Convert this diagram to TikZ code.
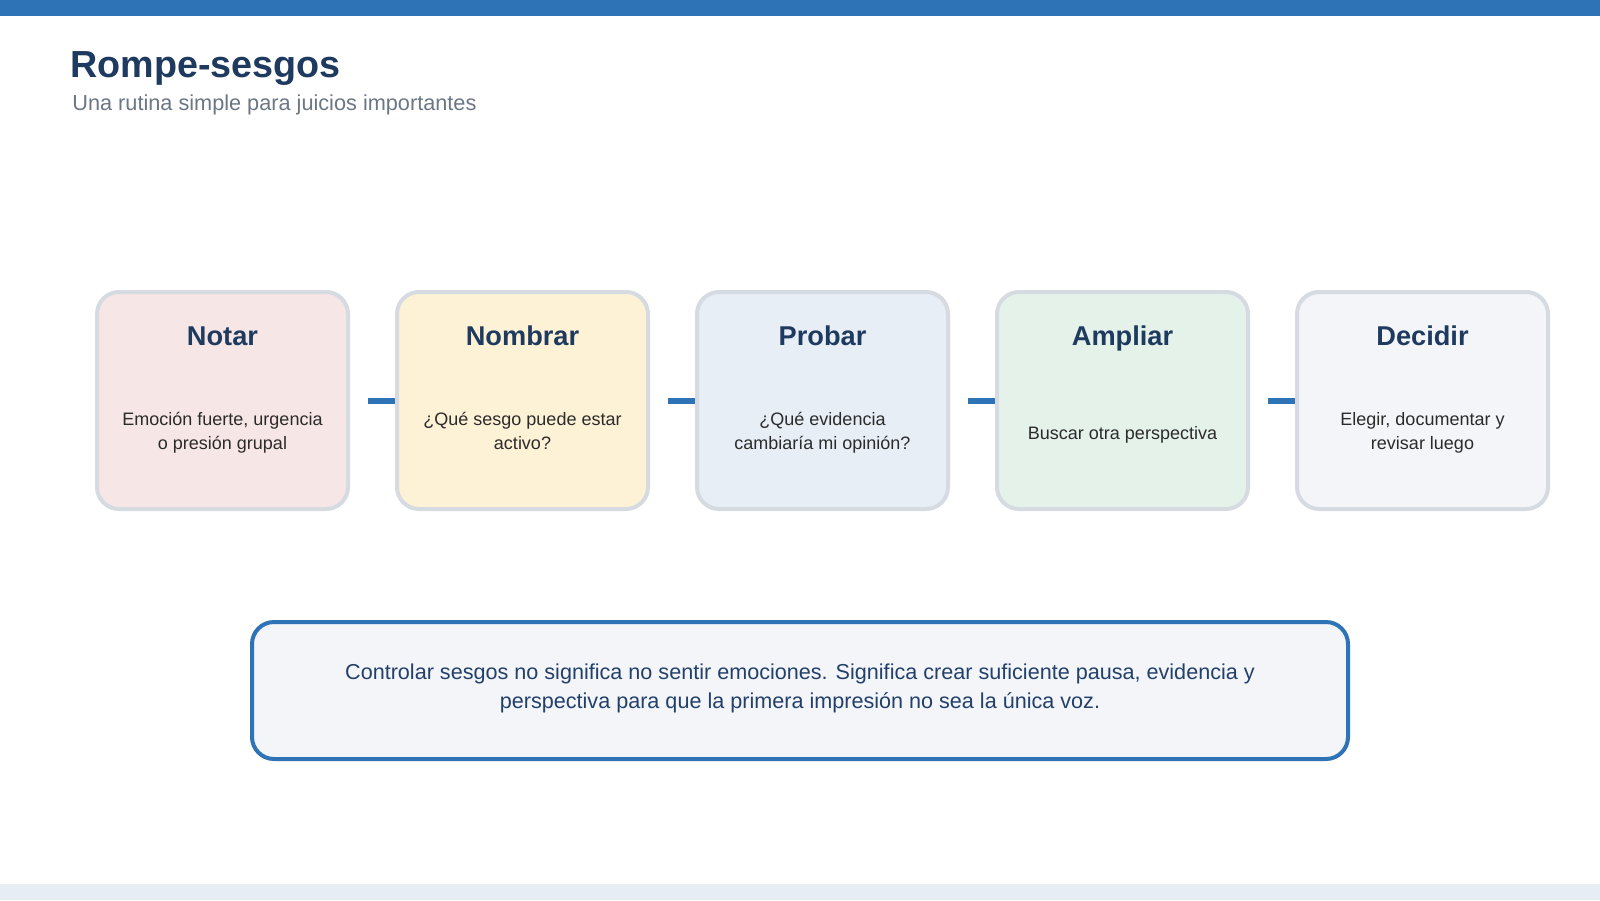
\documentclass[tikz,border=0pt]{standalone}
\usepackage{fontspec}
\setmainfont{Liberation Sans}
\usetikzlibrary{calc}

\definecolor{barblue}{HTML}{2E73B5}
\definecolor{bandblue}{HTML}{E6EDF5}
\definecolor{navy}{HTML}{1F3A5F}
\definecolor{subgray}{HTML}{6B7785}
\definecolor{bodygray}{HTML}{2B2B2B}
\definecolor{boxgray}{HTML}{D6DBE2}
\definecolor{fillrose}{HTML}{F7E6E6}
\definecolor{fillsand}{HTML}{FDF2D6}
\definecolor{fillsky}{HTML}{E7EEF6}
\definecolor{fillmint}{HTML}{E5F2EA}
\definecolor{fillmist}{HTML}{F3F5F9}
\definecolor{notenavy}{HTML}{23406A}

\begin{document}
\begin{tikzpicture}[
    x=0.5pt, y=-0.5pt,
    % Estilos de las etapas
    stage box/.style={draw=boxgray, line width=2pt, rounded corners=11pt, minimum width=125.5pt, minimum height=108.5pt, inner sep=0pt},
    stage title/.style={anchor=base, inner sep=0pt, text=navy, font=\fontsize{13.6}{16}\selectfont\bfseries},
    stage text/.style={align=center, inner sep=0pt, text=bodygray, font=\fontsize{9}{12}\selectfont, execute at begin node=\strut, execute at end node=\strut},
    % Conectores y nota
    link/.style={draw=barblue, line width=3pt, shorten <=9pt},
    note box/.style={draw=barblue, line width=2pt, fill=fillmist, rounded corners=11pt, minimum width=548pt, minimum height=68.5pt, align=center, text=notenavy, font=\fontsize{10.8}{14.5}\selectfont, execute at begin node=\strut, execute at end node={\rule[-4.5pt]{0pt}{1pt}}}
]

    % Marco de la lámina
    \useasboundingbox (0,0) rectangle (1600,900);
    \fill[white] (0,0) rectangle (1600,900);
    \fill[barblue] (0,0) rectangle (1600,16);
    \fill[bandblue] (0,884) rectangle (1600,900);

    % Encabezado
    \node[anchor=base west, inner sep=0pt, text=navy, font=\fontsize{18.85}{22}\selectfont\bfseries] (titulo) at (70,77) {Rompe-sesgos};
    \node[anchor=base west, inner sep=0pt, text=subgray, font=\fontsize{10.85}{13}\selectfont] (subtitulo) at (72,110) {Una rutina simple para juicios importantes};

    % Etapas de la rutina
    \foreach \i/\name/\fillc/\desc in {
        1/Notar/fillrose/{Emoción fuerte, urgencia\\o presión grupal},
        2/Nombrar/fillsand/{¿Qué sesgo puede estar\\activo?},
        3/Probar/fillsky/{¿Qué evidencia\\cambiaría mi opinión?},
        4/Ampliar/fillmint/{Buscar otra perspectiva},
        5/Decidir/fillmist/{Elegir, documentar y\\revisar luego}} {
        \node[stage box, fill=\fillc] (s\i) at ({222.5+300*(\i-1)}, 400.5) {};
        \node[stage title] (t\i) at ($(s\i.north)+(0,55)$) {\name};
        \node[stage text] (b\i) at ($(s\i.center)+(0,34)$) {\desc};
    }

    % Conectores entre etapas
    \foreach \i/\j in {1/2, 2/3, 3/4, 4/5} {
        \draw[link] (s\i.east) -- (s\j.west);
    }

    % Nota final
    \node[note box] (nota) at (800,690.5) {Controlar sesgos no significa no sentir emociones. Significa crear suficiente pausa, evidencia y\\perspectiva para que la primera impresión no sea la única voz.};
\end{tikzpicture}
\end{document}
